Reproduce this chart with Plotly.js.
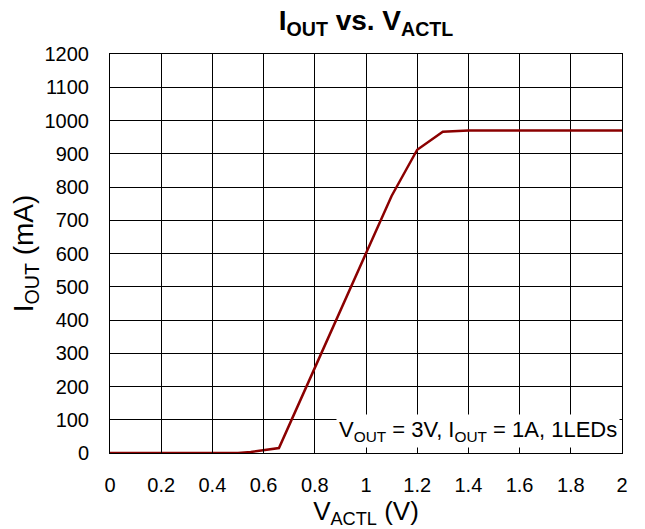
<!DOCTYPE html>
<html>
<head>
<meta charset="utf-8">
<script src="https://cdn.plot.ly/plotly-3.0.1.min.js"></script>
<style>
  html, body { margin: 0; padding: 0; background: #fff; }
  #chart { width: 645px; height: 529px; }
</style>
</head>
<body>
<div id="chart"></div>
<script>
// Data
const vActl = [0, 0.1, 0.2, 0.3, 0.4, 0.5, 0.55, 0.6, 0.66, 0.8, 0.9, 1.0, 1.1, 1.2, 1.3, 1.4, 1.5, 1.6, 1.7, 1.8, 1.9, 2.0];
const iOut  = [0, 0, 0, 0, 0, 0, 3, 8, 15, 256, 428, 600, 773, 912, 966, 970, 970, 970, 970, 970, 970, 970];

const xTickVals = [0, 0.2, 0.4, 0.6, 0.8, 1, 1.2, 1.4, 1.6, 1.8, 2];
const xTickText = ['0', '0.2', '0.4', '0.6', '0.8', '1', '1.2', '1.4', '1.6', '1.8', '2'];
const yTickVals = [0, 100, 200, 300, 400, 500, 600, 700, 800, 900, 1000, 1100, 1200];
const yTickText = ['0', '100', '200', '300', '400', '500', '600', '700', '800', '900', '1000', '1100', '1200'];

const titleText = '<b>I<sub>OUT</sub> vs. V<sub>ACTL</sub></b>';
const xTitleText = 'V<sub>ACTL</sub> (V)';
const yTitleText = 'I<sub>OUT</sub> (mA)';
const noteText = 'V<sub>OUT</sub> = 3V, I<sub>OUT</sub> = 1A, 1LEDs';

const font = 'Arial, "Liberation Sans", sans-serif';

const trace = {
  x: vActl,
  y: iOut,
  type: 'scatter',
  mode: 'lines',
  line: { color: '#8B0000', width: 2.5 },
  hoverinfo: 'skip'
};

const layout = {
  width: 645,
  height: 529,
  margin: { l: 110, r: 23, t: 54, b: 76 },
  paper_bgcolor: '#fff',
  plot_bgcolor: '#fff',
  showlegend: false,
  font: { family: font, color: '#000', size: 20 },
  title: {
    text: titleText,
    font: { family: font, size: 28, color: '#000' },
    xref: 'paper', x: 0.5, xanchor: 'center',
    yref: 'container', y: 1 - 20 / 529, yanchor: 'middle'
  },
  xaxis: {
    range: [0, 2],
    tickvals: xTickVals,
    ticktext: xTickText,
    ticks: 'inside', ticklen: 5, tickcolor: '#000',
    showgrid: true, gridcolor: '#000', gridwidth: 1,
    zeroline: false,
    showline: true, linecolor: '#000', linewidth: 1, mirror: true,
    ticklabelstandoff: 14,
    tickfont: { family: font, size: 20, color: '#000' },
    title: { text: xTitleText, font: { family: font, size: 26, color: '#000' }, standoff: 4 },
    fixedrange: true
  },
  yaxis: {
    range: [0, 1200],
    tickvals: yTickVals,
    ticktext: yTickText,
    ticks: 'inside', ticklen: 5, tickcolor: '#000',
    showgrid: true, gridcolor: '#000', gridwidth: 1,
    zeroline: false,
    showline: true, linecolor: '#000', linewidth: 1, mirror: true,
    ticklabelstandoff: 16,
    tickfont: { family: font, size: 20, color: '#000' },
    title: { text: yTitleText, font: { family: font, size: 28, color: '#000' }, standoff: 2 },
    fixedrange: true
  },
  annotations: [{
    text: noteText,
    xref: 'paper', x: 0.996, xanchor: 'right',
    yref: 'y', y: 66, yanchor: 'middle',
    showarrow: false,
    bgcolor: '#fff',
    borderpad: 2,
    font: { family: font, size: 22, color: '#000' }
  }]
};

Plotly.newPlot('chart', [trace], layout, { displayModeBar: false, staticPlot: true });
</script>
</body>
</html>
